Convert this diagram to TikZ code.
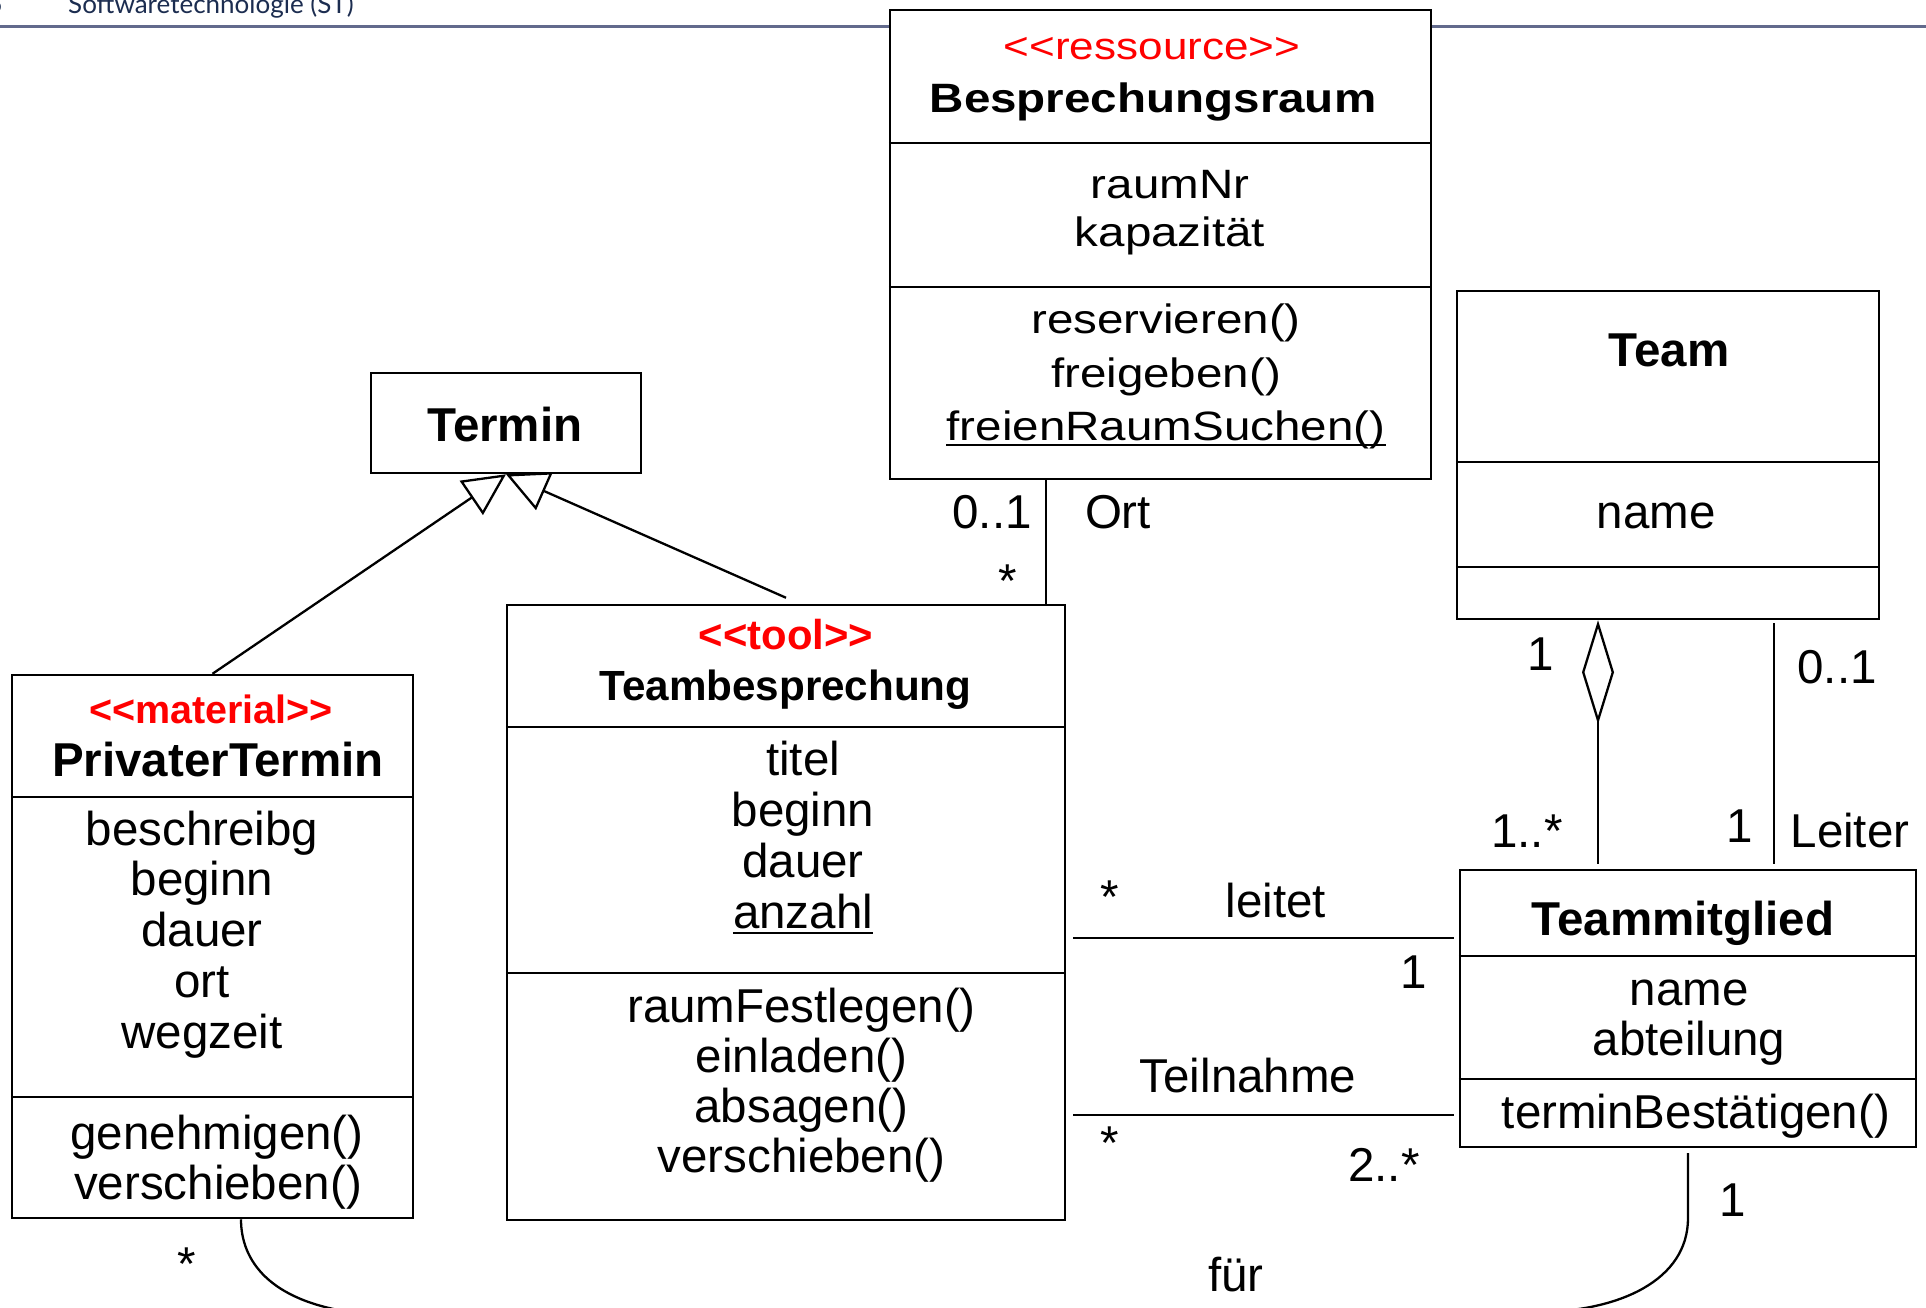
\documentclass[tikz,border=0pt]{standalone}
\usepackage{fontspec}
\setmainfont{Liberation Sans}
\newfontfamily\widesf{Liberation Sans}[FakeStretch=1.16]
\newfontfamily\headsf{Lato}
\usetikzlibrary{calc,arrows.meta}
\definecolor{headline}{RGB}{98,106,140}
\definecolor{headtext}{RGB}{28,45,80}
\newcommand{\stereo}[1]{<\kern0pt<#1>\kern0pt>}
\newcommand{\fsize}[1]{\fontsize{#1}{#1}\selectfont}

\begin{document}
\begin{tikzpicture}[x=1pt,y=-1pt,
  cls/.style={draw,line width=2.5pt,fill=white,inner sep=0pt},
  div/.style={line width=2.5pt},
  txt/.style={inner sep=0pt,anchor=base,font=\fsize{47.5}},
  nm/.style={txt,font=\bfseries\fsize{47.5}},
  st/.style={txt,text=red},
  assoc/.style={line width=2.3pt},
  gen/.style={assoc,-{Triangle[open,length=42pt,width=41pt]}},
  aggr/.style={assoc,{Diamond[open,length=104pt,width=32pt]}-}]
\useasboundingbox (0,0) rectangle (1926,1307);

% header
\draw[headline,line width=3pt] (0,26) -- (1926,26);
\node[inner sep=0pt,anchor=base west,text=headtext,font=\headsf\fsize{26}] (head) at (68,13) {Softwaretechnologie (ST)};
\node[inner sep=0pt,anchor=base east,text=headtext,font=\headsf\fsize{26}] (pagenr) at (3,13) {5};

% classes
\node[cls,minimum width=541pt,minimum height=469pt] (raum) at (1160.5,244.5) {};
\node[cls,minimum width=422pt,minimum height=328pt] (team) at (1668,455) {};
\node[cls,minimum width=270pt,minimum height=100pt] (termin) at (506,423) {};
\node[cls,minimum width=401pt,minimum height=543pt] (pt) at (212.5,946.5) {};
\node[cls,minimum width=558pt,minimum height=615pt] (tb) at (786,912.5) {};
\node[cls,minimum width=456pt,minimum height=277pt] (tm) at (1688,1008.5) {};
\foreach \n/\y in {raum/143,raum/287,team/462,team/567,pt/797,pt/1097,tb/727,tb/973,tm/956,tm/1079}
  \draw[div] (\n.west |- 0,\y) -- (\n.east |- 0,\y);

% Besprechungsraum
\node[st,font=\widesf\fsize{38}] (raumst) at (1152,59) {\stereo{ressource}};
\node[txt,font=\widesf\bfseries\fsize{41}] (raumnm) at (1153,112) {Besprechungsraum};
\node[txt,font=\widesf\fsize{41}] (raumnr) at (1170,198) {raumNr};
\node[txt,font=\widesf\fsize{41}] (raumkap) at (1170,246) {kapazität};
\node[txt,font=\widesf\fsize{41}] (raumres) at (1166,333) {reservieren()};
\node[txt,font=\widesf\fsize{41}] (raumfrei) at (1166,387) {freigeben()};
\node[txt,font=\widesf\fsize{41}] (raumsuch) at (1166,440) {freienRaumSuchen()};
\draw[line width=2pt] ([yshift=-5pt]raumsuch.base west) -- ([yshift=-5pt]raumsuch.base east);

% Termin, Team
\node[nm] (terminnm) at (505,441.5) {Termin};
\node[nm] (teamnm) at (1669,366) {Team};
\node[txt] (teamname) at (1656,528.5) {name};

% PrivaterTermin
\node[st,font=\bfseries\fsize{39.5}] (ptst) at (211,723) {\stereo{material}};
\node[nm] (ptnm) at (218,776) {PrivaterTermin};
\foreach \t [count=\i from 0] in {beschreibg,beginn,dauer,ort,wegzeit}
  \node[txt] (ptattr\i) at (202,{845+50.75*\i}) {\t};
\node[txt] (ptgen) at (217,1149) {genehmigen()};
\node[txt] (ptver) at (218,1199) {verschieben()};

% Teambesprechung
\node[st,font=\bfseries\fsize{41.8}] (tbst) at (786,649) {\stereo{tool}};
\node[txt,font=\bfseries\fsize{42.2}] (tbnm) at (785.5,700) {Teambesprechung};
\foreach \t [count=\i from 0] in {titel,beginn,dauer,anzahl}
  \node[txt] (tbattr\i) at (803,{775+51*\i}) {\t};
\draw[line width=2pt] ([yshift=-5pt]tbattr3.base west) -- ([yshift=-5pt]tbattr3.base east);
\foreach \t [count=\i from 0] in {raumFestlegen(),einladen(),absagen(),verschieben()}
  \node[txt] (tbop\i) at (801.5,{1022+50*\i}) {\t};

% Teammitglied
\node[nm] (tmnm) at (1683,935) {Teammitglied};
\node[txt] (tmname) at (1689,1005) {name};
\node[txt] (tmabt) at (1689,1055) {abteilung};
\node[txt] (tmop) at (1696,1128) {terminBestätigen()};

% connectors
\draw[gen] (pt.north) -- (termin.south);
\draw[gen] ([yshift=6pt]tb.north) -- (termin.south);
\draw[assoc] (raum.south -| 1046,0) -- (tb.north -| 1046,0);
\draw[aggr,shorten >=5pt] (team.south -| 1598,0) -- (tm.north -| 1598,0);
\draw[assoc,shorten <=3pt,shorten >=5pt] (team.south -| 1774,0) -- (tm.north -| 1774,0);
\draw[assoc,shorten <=7pt,shorten >=5pt] (tb.east |- 0,938) -- (tm.west |- 0,938);
\draw[assoc,shorten <=7pt,shorten >=5pt] (tb.east |- 0,1115) -- (tm.west |- 0,1115);
\draw[assoc] ([xshift=28.5pt]pt.south) .. controls +(0,42) and +(-80,-12) .. (350,1312)
  -- (1540,1312) .. controls +(80,-1) and +(0,62) .. (tm.south |- 0,1218) -- (tm.south |- 0,1153);

% multiplicities and roles
\foreach \nm/\x/\y/\t in {ortmin/992/528/0..1, ortrole/1118/528/Ort, ortmax/1008/597/*,
    teamagg/1541/670/1, tmagg/1527/847/1..*, leiterteam/1837/683/0..1, leitertm/1740/842/1,
    leiterrole/1850/847/Leiter, leitettb/1110/913/*, leitetnm/1276/917/leitet, leitettm/1414/988/1,
    teilnm/1248/1092/Teilnahme, teiltb/1110/1159/*, teiltm/1384/1181/2..*,
    fuertm/1733/1216/1, fuerpt/187/1280/*, fuernm/1236/1291/für}
  \node[txt] (\nm) at (\x,\y) {\t};
\end{tikzpicture}
\end{document}
